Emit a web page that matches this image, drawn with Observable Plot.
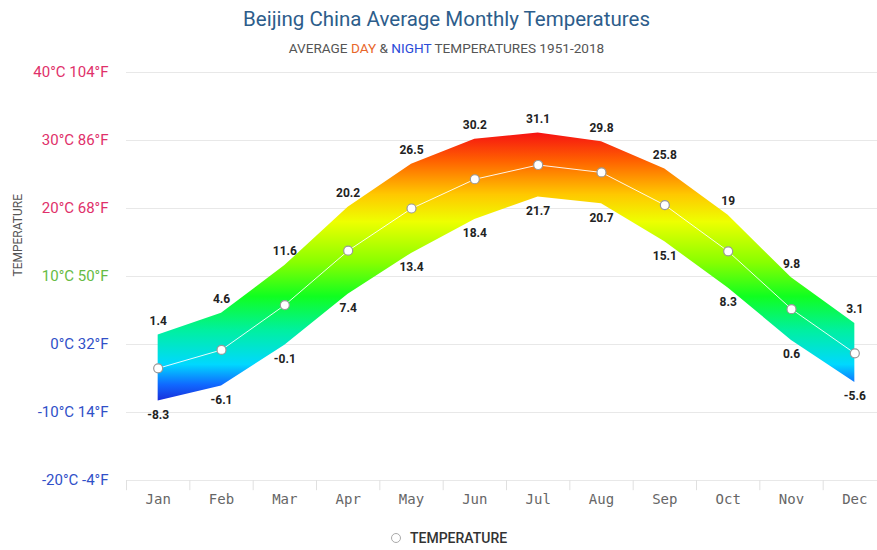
<!DOCTYPE html>
<html>
<head>
<meta charset="utf-8">
<script src="https://cdn.jsdelivr.net/npm/d3@7"></script>
<script src="https://cdn.jsdelivr.net/npm/@observablehq/plot@0.6"></script>
<style>
  body { margin: 0; background: #fff; font-family: Roboto, "Noto Sans", sans-serif; width: 877px; overflow: hidden; }
  #head { height: 60px; position: relative; }
  #title { position: absolute; top: 7px; left: 8px; width: 877px; text-align: center; font-size: 20.5px; color: #2d5d8b; }
  #sub { position: absolute; top: 40px; left: 8px; width: 877px; text-align: center; font-size: 13.6px; color: #555; }
  #legend { height: 24px; position: relative; }
  #legend .item { position: absolute; left: 391px; top: 10px; font-size: 14px; font-weight: 500; color: #333; display: flex; align-items: center; }
  #legend .dot { width: 8px; height: 8px; border: 1.5px solid #aaa; border-radius: 50%; margin-right: 9px; background: #fff; }
</style>
</head>
<body>
<div id="head">
  <div id="title">Beijing China Average Monthly Temperatures</div>
  <div id="sub">AVERAGE <span style="color:#e8662a">DAY</span> &amp; <span style="color:#2a4ad8">NIGHT</span> TEMPERATURES 1951-2018</div>
</div>
<div id="chart"></div>
<div id="legend"><div class="item"><span class="dot"></span>TEMPERATURE</div></div>
<script>
const months = ["Jan","Feb","Mar","Apr","May","Jun","Jul","Aug","Sep","Oct","Nov","Dec"];
const highs = [1.4, 4.6, 11.6, 20.2, 26.5, 30.2, 31.1, 29.8, 25.8, 19, 9.8, 3.1];
const lows = [-8.3, -6.1, -0.1, 7.4, 13.4, 18.4, 21.7, 20.7, 15.1, 8.3, 0.6, -5.6];
const avgs = [-3.5, -0.8, 5.8, 13.8, 20.0, 24.3, 26.4, 25.3, 20.5, 13.7, 5.2, -1.3];
const yTicks = [40, 30, 20, 10, 0, -10, -20];
const yTickLabels = ["40°C 104°F", "30°C 86°F", "20°C 68°F", "10°C 50°F", "0°C 32°F", "-10°C 14°F", "-20°C -4°F"];
const yTickColors = ["#e0306a", "#e0306a", "#e0306a", "#66bb44", "#3050c8", "#3050c8", "#3050c8"];

const data = months.map((m, i) => ({month: m, high: highs[i], low: lows[i], avg: avgs[i]}));

const gradStops = [
  [31.5, "#f50a14"], [27, "#ff6000"], [22, "#ffc800"], [18, "#eeff00"],
  [12, "#88ff00"], [7, "#10ff20"], [2, "#00f0a0"], [-3, "#00d8ff"],
  [-6, "#1068ff"], [-8.5, "#1a2ad8"]
];

const gradientMark = (index, scales) => {
  const defs = d3.create("svg:defs");
  const y0 = scales.y(gradStops[0][0]), y1 = scales.y(gradStops[gradStops.length - 1][0]);
  const g = defs.append("linearGradient")
    .attr("id", "tempGrad")
    .attr("gradientUnits", "userSpaceOnUse")
    .attr("x1", 0).attr("x2", 0)
    .attr("y1", y0).attr("y2", y1);
  for (const [t, c] of gradStops) {
    g.append("stop").attr("offset", (scales.y(t) - y0) / (y1 - y0)).attr("stop-color", c);
  }
  return defs.node();
};

const step = 760 / 12;

const chart = Plot.plot({
  width: 877,
  height: 460,
  marginTop: 12,
  marginBottom: 40,
  marginLeft: 126,
  marginRight: 0,
  style: {fontFamily: "Roboto, sans-serif", overflow: "visible"},
  x: {type: "point", domain: months, range: [126, 886], padding: 0.5, round: false, axis: null},
  y: {domain: [-20, 40], range: [420, 12], axis: null},
  marks: [
    gradientMark,
    Plot.ruleY(yTicks, {stroke: "#e8e8e8", strokeWidth: 1}),
    Plot.ruleX(months, {x: d => d, y1: -20, y2: -21.5, dx: -step / 2, stroke: "#e0e0e0"}),
    Plot.text(yTicks, {y: d => d, frameAnchor: "left", textAnchor: "end", dx: -18, text: (d, i) => yTickLabels[i], fill: (d, i) => yTickColors[i], fontSize: 15}),
    Plot.text(["TEMPERATURE"], {y: 10, frameAnchor: "left", dx: -108, rotate: -90, fill: "#555", fontSize: 12}),
    Plot.text(months, {x: d => d, y: -20, dy: 19, text: d => d, fill: "#666", fontSize: 14, fontFamily: "DejaVu Sans Mono"}),
    Plot.areaY(data, {x: "month", y1: "low", y2: "high", fill: "url(#tempGrad)", curve: "linear"}),
    Plot.line(data, {x: "month", y: "avg", stroke: "#ffffff", strokeWidth: 1, strokeOpacity: 0.9}),
    Plot.dot(data, {x: "month", y: "avg", r: 4.5, fill: "#fff", stroke: "#999", strokeWidth: 1.2}),
    Plot.text(data, {x: "month", y: "high", text: d => String(d.high), dy: -14, fill: "#222", fontWeight: "bold", fontSize: 12}),
    Plot.text(data, {x: "month", y: "low", text: d => String(d.low), dy: 14, fill: "#222", fontWeight: "bold", fontSize: 12})
  ]
});
document.getElementById("chart").appendChild(chart);
</script>
</body>
</html>
